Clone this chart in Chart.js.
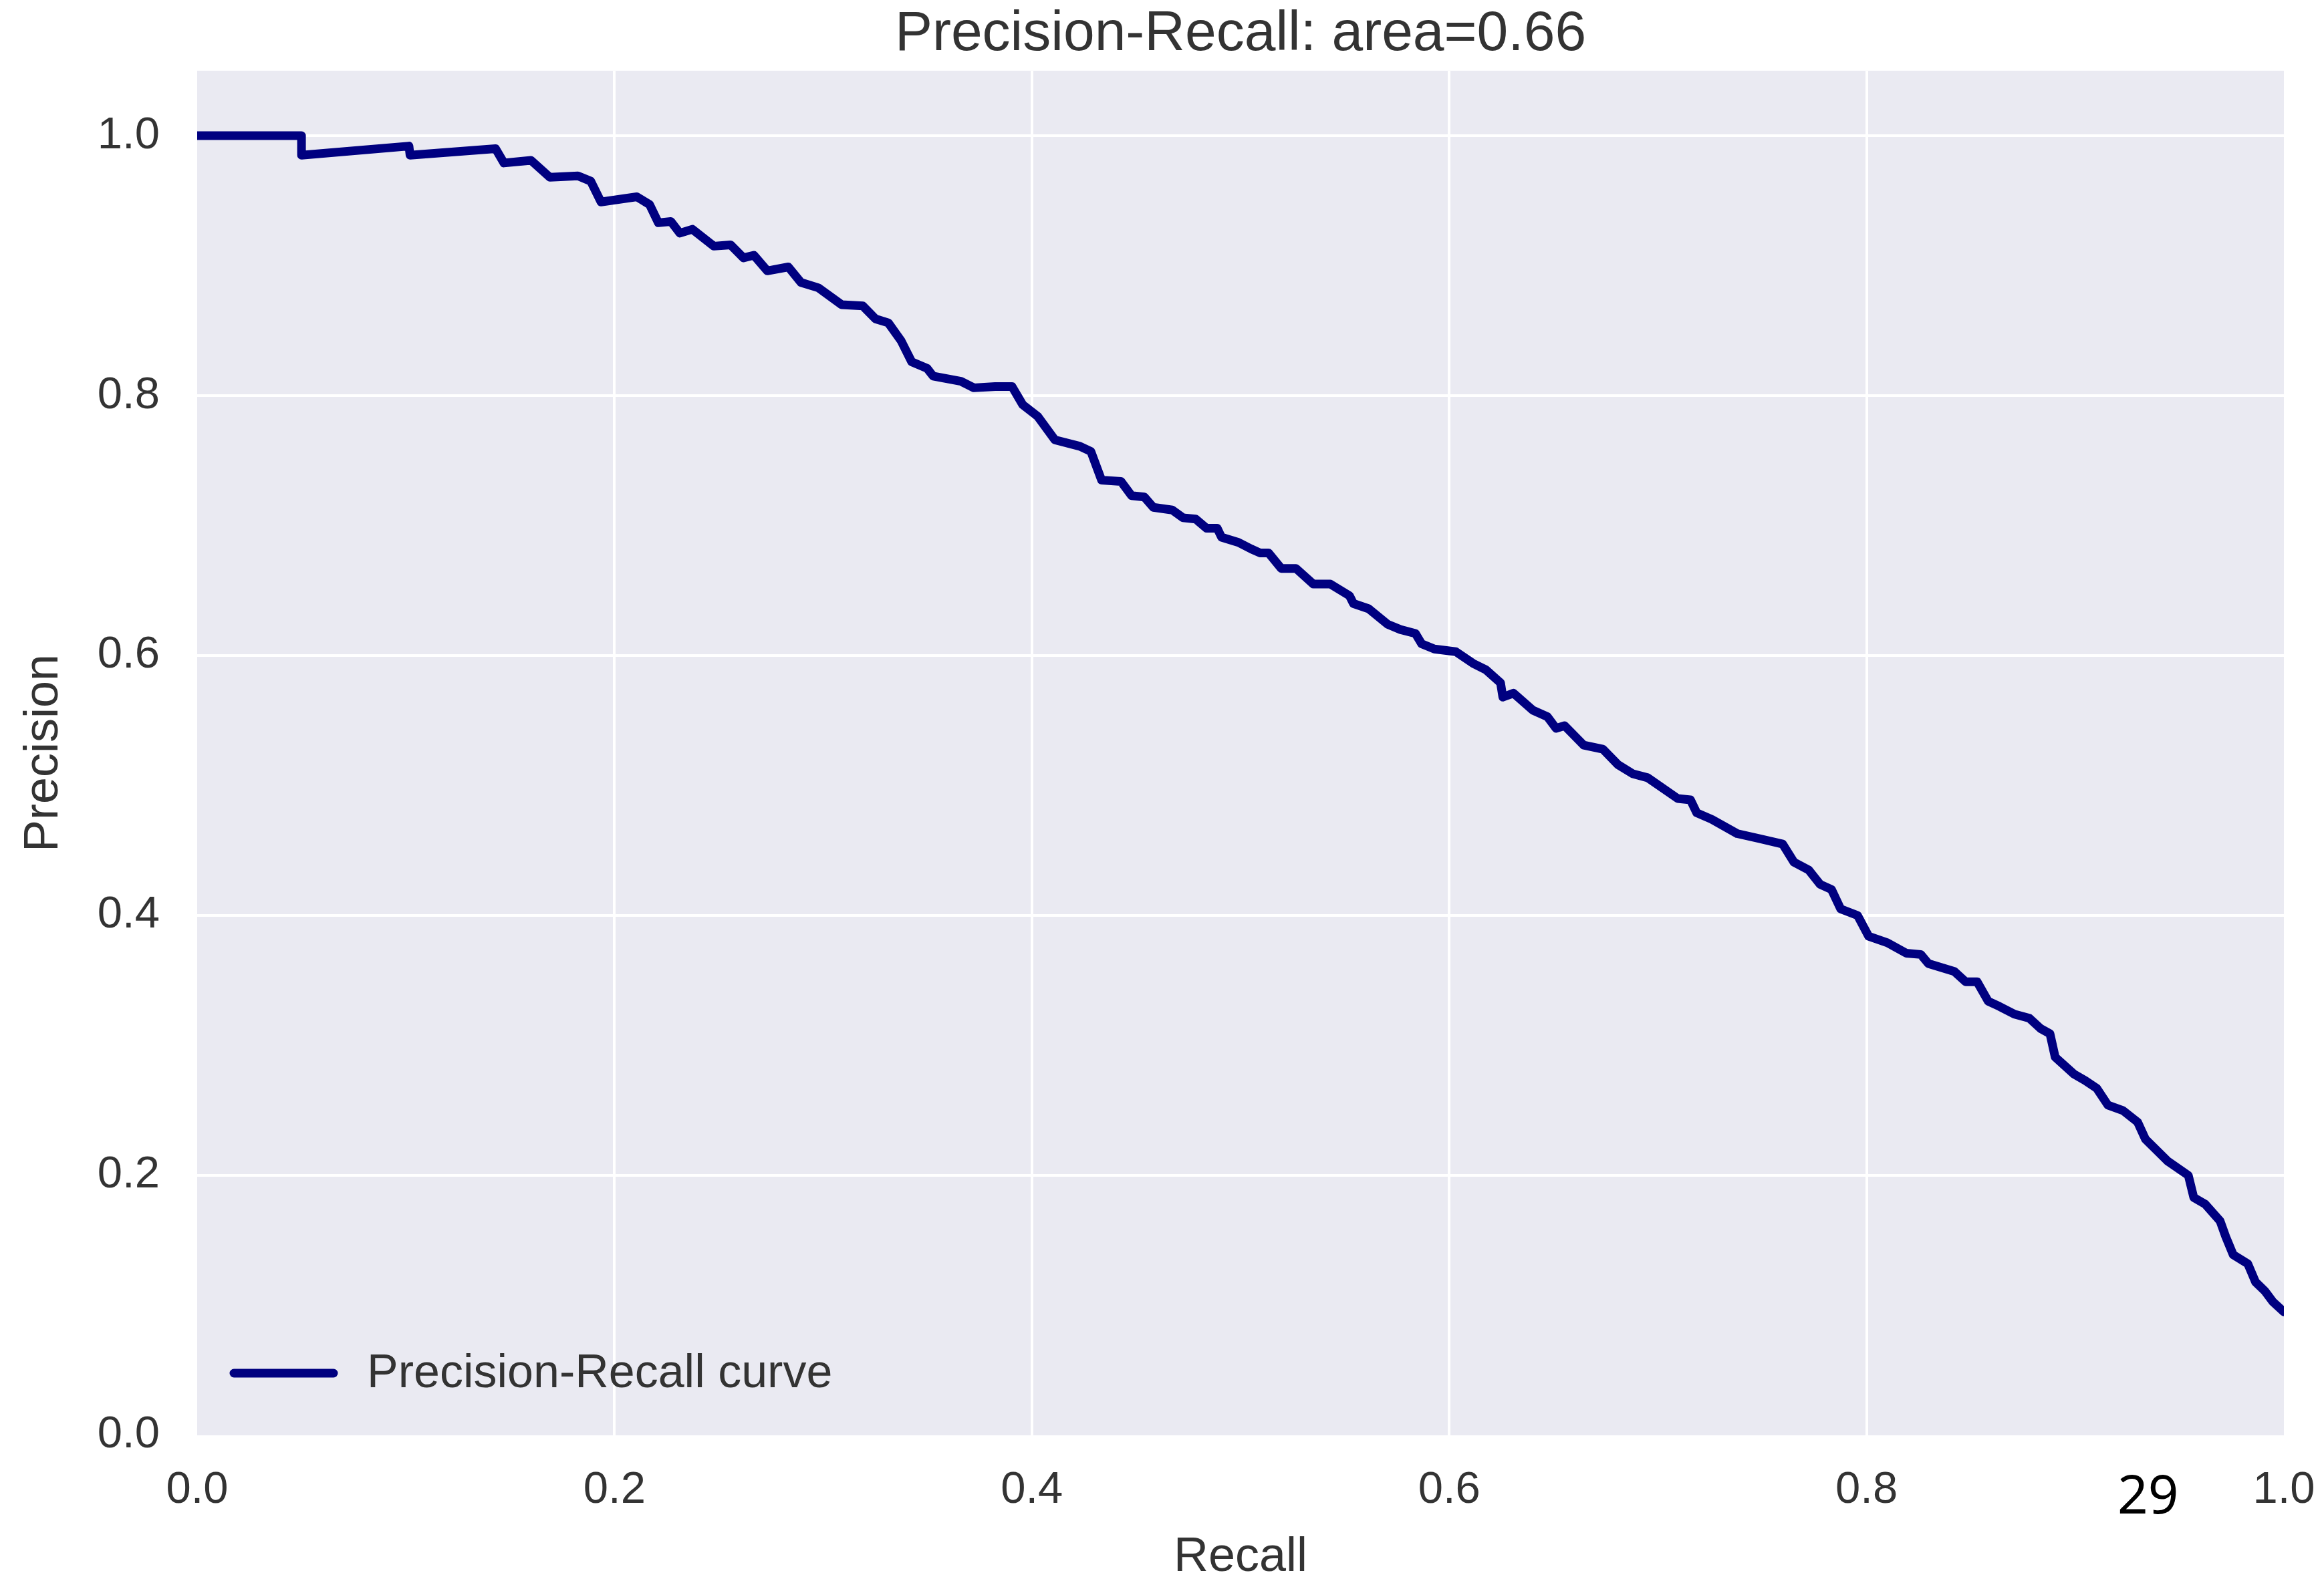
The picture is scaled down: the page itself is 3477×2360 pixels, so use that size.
<!DOCTYPE html>
<html lang="en">
<head>
    <meta charset="UTF-8">
    <title>Precision-Recall curve</title>
    <style>
        body {
            margin: 0;
            background: #ffffff;
        }
        #wrap {
            width: 3477px;
            height: 2360px;
        }
    </style>
</head>
<body>
    <div id="wrap">
        <canvas id="pr-chart" width="3477" height="2360"></canvas>
    </div>

    <script src="https://cdn.jsdelivr.net/npm/chart.js"></script>
    <script>
        // Precision-recall points (recall on x, precision on y)
        const recall = [
            0, 0.050, 0.050, 0.1015, 0.102, 0.143, 0.147, 0.160, 0.169, 0.1825,
            0.1886, 0.1935, 0.2107, 0.2168, 0.221, 0.227, 0.2313, 0.2373, 0.2476, 0.2556,
            0.2618, 0.2668, 0.2732, 0.2833, 0.2894, 0.2976, 0.3088, 0.319, 0.3251, 0.3312,
            0.3374, 0.3424, 0.3498, 0.3527, 0.366, 0.3722, 0.3824, 0.3905, 0.3956, 0.4028,
            0.411, 0.423, 0.4283, 0.4334, 0.4427, 0.4478, 0.4539, 0.4582, 0.4673, 0.4724,
            0.4785, 0.4837, 0.4888, 0.4909, 0.499, 0.5051, 0.5093, 0.5134, 0.5195, 0.5266,
            0.5349, 0.543, 0.5522, 0.5541, 0.5614, 0.5705, 0.5766, 0.5838, 0.5868, 0.5929,
            0.6031, 0.6114, 0.6176, 0.6246, 0.6257, 0.6308, 0.640, 0.647, 0.6512, 0.6553,
            0.6645, 0.6736, 0.6809, 0.688, 0.6951, 0.7095, 0.7156, 0.7186, 0.7258, 0.738,
            0.749, 0.7598, 0.7652, 0.7723, 0.7777, 0.7832, 0.7876, 0.7957, 0.801, 0.81,
            0.819, 0.826, 0.8296, 0.842, 0.8475, 0.853, 0.8583, 0.8637, 0.8709, 0.878,
            0.8834, 0.8879, 0.8904, 0.8994, 0.9048, 0.9103, 0.9157, 0.9228, 0.9299, 0.9336,
            0.9443, 0.9542, 0.9568, 0.9622, 0.9694, 0.9721, 0.9757, 0.9827, 0.9864, 0.9909,
            0.9946, 1.0
        ];
        const precision = [
            1.0, 1.0, 0.985, 0.992, 0.985, 0.990, 0.979, 0.981, 0.968, 0.969,
            0.965, 0.949, 0.953, 0.947, 0.933, 0.934, 0.925, 0.928, 0.915, 0.916,
            0.906, 0.908, 0.896, 0.899, 0.887, 0.883, 0.870, 0.869, 0.859, 0.856,
            0.842, 0.826, 0.821, 0.815, 0.811, 0.806, 0.807, 0.807, 0.793, 0.784,
            0.766, 0.761, 0.757, 0.735, 0.734, 0.723, 0.722, 0.714, 0.712, 0.706,
            0.705, 0.698, 0.698, 0.691, 0.687, 0.682, 0.679, 0.679, 0.667, 0.667,
            0.655, 0.655, 0.646, 0.640, 0.636, 0.624, 0.620, 0.617, 0.609, 0.605,
            0.603, 0.594, 0.589, 0.579, 0.568, 0.571, 0.558, 0.553, 0.544, 0.546,
            0.531, 0.528, 0.516, 0.509, 0.506, 0.490, 0.489, 0.479, 0.474, 0.463,
            0.459, 0.455, 0.441, 0.435, 0.424, 0.420, 0.405, 0.400, 0.384, 0.379,
            0.371, 0.370, 0.363, 0.357, 0.349, 0.349, 0.334, 0.330, 0.324, 0.321,
            0.313, 0.309, 0.291, 0.278, 0.273, 0.267, 0.254, 0.250, 0.241, 0.228,
            0.211, 0.200, 0.183, 0.178, 0.165, 0.153, 0.139, 0.132, 0.118, 0.111,
            0.103, 0.095
        ];

        const titleText = 'Precision-Recall: area=0.66';
        const xLabel = 'Recall';
        const yLabel = 'Precision';
        const seriesLabel = 'Precision-Recall curve';
        const pageNumber = '29';

        const FONT = '"Liberation Sans", Arial, sans-serif';
        const TEXT = '#333333';
        const NAVY = '#000080';

        // edge grid lines are not drawn (seaborn-style frame)
        function gridColor(ctx, edges) {
            const v = ctx.tick ? ctx.tick.value : null;
            if (v === null) return '#ffffff';
            for (const e of edges) {
                if (Math.abs(v - e) < 1e-9) return 'rgba(0,0,0,0)';
            }
            return '#ffffff';
        }

        const plotBackground = {
            id: 'plotBackground',
            beforeDraw(chart) {
                const {ctx, chartArea: a} = chart;
                ctx.save();
                ctx.fillStyle = '#EAEAF2';
                ctx.fillRect(a.left, a.top, a.right - a.left, a.bottom - a.top);
                ctx.restore();
            }
        };

        // center the title over the plot area, not the whole canvas
        const titleOverPlot = {
            id: 'titleOverPlot',
            afterLayout(chart) {
                const t = chart.titleBlock;
                if (!t) return;
                t.left = chart.chartArea.left;
                t.right = chart.chartArea.right;
                t.width = t.right - t.left;
            }
        };

        // legend drawn inside the plot, lower left
        const innerLegend = {
            id: 'innerLegend',
            afterDraw(chart) {
                const {ctx, chartArea: a} = chart;
                const ds = chart.data.datasets[0];
                const y = a.bottom - 93;
                ctx.save();
                ctx.strokeStyle = ds.borderColor;
                ctx.lineWidth = ds.borderWidth;
                ctx.lineCap = 'round';
                ctx.beginPath();
                ctx.moveTo(a.left + 55, y);
                ctx.lineTo(a.left + 204, y);
                ctx.stroke();
                ctx.fillStyle = TEXT;
                ctx.font = '70px ' + FONT;
                ctx.textBaseline = 'middle';
                ctx.textAlign = 'left';
                ctx.fillText(ds.label, a.left + 254, y + 2);
                ctx.restore();
            }
        };

        const pageMark = {
            id: 'pageMark',
            afterDraw(chart) {
                const ctx = chart.ctx;
                ctx.save();
                ctx.fillStyle = '#000000';
                ctx.font = '80px "Noto Sans", sans-serif';
                ctx.textBaseline = 'alphabetic';
                ctx.textAlign = 'left';
                ctx.fillText(pageNumber, 3168, 2265);
                ctx.restore();
            }
        };

        const ctx = document.getElementById('pr-chart').getContext('2d');
        new Chart(ctx, {
            type: 'scatter',
            data: {
                datasets: [{
                    label: seriesLabel,
                    data: recall.map((r, i) => ({x: r, y: precision[i]})),
                    showLine: true,
                    borderColor: NAVY,
                    backgroundColor: NAVY,
                    borderWidth: 13,
                    borderJoinStyle: 'round',
                    borderCapStyle: 'round',
                    pointRadius: 0,
                    pointHoverRadius: 0,
                    tension: 0
                }]
            },
            plugins: [plotBackground, titleOverPlot, innerLegend, pageMark],
            options: {
                responsive: false,
                animation: false,
                devicePixelRatio: 1,
                layout: {
                    padding: {left: 0, right: 60, top: 0, bottom: 0}
                },
                plugins: {
                    legend: {display: false},
                    tooltip: {enabled: false},
                    title: {
                        display: true,
                        text: titleText,
                        color: TEXT,
                        font: {family: FONT, size: 84, weight: 'normal', lineHeight: 1.2},
                        padding: {top: 1, bottom: 4}
                    }
                },
                scales: {
                    x: {
                        type: 'linear',
                        min: 0,
                        max: 1,
                        border: {display: false},
                        grid: {
                            color: c => gridColor(c, [0, 1]),
                            lineWidth: 4,
                            drawTicks: false
                        },
                        ticks: {
                            stepSize: 0.2,
                            includeBounds: false,
                            padding: 42,
                            color: TEXT,
                            font: {family: FONT, size: 67},
                            callback: v => Number(v).toFixed(1)
                        },
                        title: {
                            display: true,
                            text: xLabel,
                            color: TEXT,
                            font: {family: FONT, size: 72, lineHeight: 0.8},
                            padding: {top: 0, bottom: 0}
                        },
                        afterFit(scale) {
                            scale.height = 212;
                            // end labels fit inside the outer margins
                            scale.paddingLeft = 0;
                            scale.paddingRight = 0;
                        }
                    },
                    y: {
                        type: 'linear',
                        min: 0,
                        max: 1.05,
                        border: {display: false},
                        grid: {
                            color: c => gridColor(c, [0]),
                            lineWidth: 4,
                            drawTicks: false
                        },
                        ticks: {
                            stepSize: 0.2,
                            includeBounds: false,
                            padding: 56,
                            color: TEXT,
                            font: {family: FONT, size: 67},
                            callback: v => Number(v).toFixed(1)
                        },
                        afterBuildTicks(scale) {
                            scale.ticks = scale.ticks.filter(t => t.value <= 1.0001);
                        },
                        title: {
                            display: true,
                            text: yLabel,
                            color: TEXT,
                            font: {family: FONT, size: 72, lineHeight: 1.2},
                            padding: {top: 23, bottom: 0}
                        },
                        afterFit(scale) {
                            scale.width = 295;
                        }
                    }
                }
            }
        });
    </script>
</body>
</html>
